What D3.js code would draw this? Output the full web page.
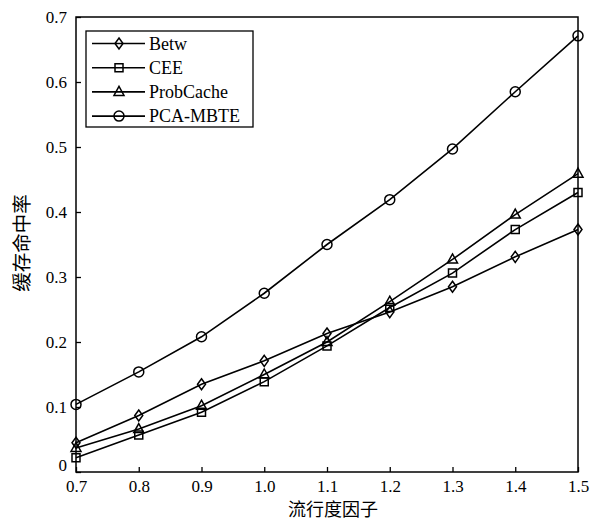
<!DOCTYPE html>
<html>
<head>
<meta charset="utf-8">
<script src="https://cdn.jsdelivr.net/npm/d3@7"></script>
<style>
  body { margin: 0; background: #fff; }
  svg { display: block; }
</style>
</head>
<body>
<svg id="chart" width="597" height="521"></svg>
<script>
// 流行度因子 (x) and hit ratios
var xValues = [0.7, 0.8, 0.9, 1.0, 1.1, 1.2, 1.3, 1.4, 1.5];
var betw = [0.045, 0.087, 0.135, 0.171, 0.213, 0.246, 0.285, 0.331, 0.373];
var cee = [0.022, 0.057, 0.092, 0.139, 0.194, 0.253, 0.306, 0.373, 0.430];
var probCache = [0.037, 0.066, 0.102, 0.150, 0.200, 0.262, 0.327, 0.396, 0.459];
var pcaMbte = [0.104, 0.154, 0.208, 0.275, 0.350, 0.419, 0.497, 0.585, 0.671];
var seriesNames = ["Betw", "CEE", "ProbCache", "PCA-MBTE"];
var markerTypes = ["diamond", "square", "triangle", "circle"];
var xTicks = [0.7, 0.8, 0.9, 1.0, 1.1, 1.2, 1.3, 1.4, 1.5];
var yTicks = [0, 0.1, 0.2, 0.3, 0.4, 0.5, 0.6, 0.7];

var svg = d3.select("svg#chart"),
    margin = {top: 17, right: 19, bottom: 49, left: 76},
    width = +svg.attr("width") - margin.left - margin.right,
    height = +svg.attr("height") - margin.top - margin.bottom,
    g = svg.append("g").attr("transform", "translate(" + margin.left + "," + margin.top + ")");

var serif = "'Liberation Serif', 'Times New Roman', serif";
var cjk = "'Noto Sans CJK SC', sans-serif";

var x = d3.scaleLinear().domain([0.7, 1.5]).range([0, width]);
var y = d3.scaleLinear().domain([0, 0.7]).range([height, 0]);

var series = [betw, cee, probCache, pcaMbte].map(function(vals, i) {
  return {name: seriesNames[i], marker: markerTypes[i],
          values: vals.map(function(v, j) { return {x: xValues[j], y: v}; })};
});

function markerPath(type) {
  if (type === "diamond") return "M0,-5.5L4,0L0,5.5L-4,0Z";
  if (type === "square") return "M-4,-4H4V4H-4Z";
  if (type === "triangle") return "M0,-5.5L5,3.5H-5Z";
  return "M5,0A5,5 0 1,1 -5,0A5,5 0 1,1 5,0Z";
}

// axes (ticks pointing inward)
var xAxis = g.append("g")
    .attr("transform", "translate(0," + height + ")")
    .call(d3.axisBottom(x).tickValues(xTicks).tickFormat(d3.format(".1f")).tickSizeInner(-5).tickSizeOuter(0).tickPadding(8));
var yAxis = g.append("g")
    .call(d3.axisLeft(y).tickValues(yTicks).tickFormat(function(d) { return d === 0 ? "0" : d3.format(".1f")(d); }).tickSizeInner(-5).tickSizeOuter(0).tickPadding(9));

[xAxis, yAxis].forEach(function(a) {
  a.select(".domain").remove();
  a.selectAll("line").attr("stroke", "#000").attr("stroke-width", 1.3);
  a.selectAll("text").attr("font-family", serif).attr("font-size", 17).attr("fill", "#000");
});
yAxis.selectAll(".tick").filter(function(d) { return d === 0; }).select("text").attr("dy", "-0.1em");

// box
g.append("rect")
    .attr("width", width)
    .attr("height", height)
    .attr("fill", "none")
    .attr("stroke", "#000")
    .attr("stroke-width", 1.5);

var line = d3.line()
    .x(function(d) { return x(d.x); })
    .y(function(d) { return y(d.y); });

var sg = g.append("g").selectAll("g")
    .data(series)
    .enter().append("g");

sg.append("path")
    .attr("d", function(d) { return line(d.values); })
    .attr("fill", "none")
    .attr("stroke", "#000")
    .attr("stroke-width", 1.6);

sg.each(function(s) {
  d3.select(this).selectAll(".mk")
    .data(s.values)
    .enter().append("path")
      .attr("class", "mk")
      .attr("transform", function(d) { return "translate(" + x(d.x) + "," + y(d.y) + ")"; })
      .attr("d", markerPath(s.marker))
      .attr("fill", "none")
      .attr("stroke", "#000")
      .attr("stroke-width", 1.5);
});

// legend
var legend = g.append("g").attr("transform", "translate(10,14)");
legend.append("rect")
    .attr("width", 167)
    .attr("height", 96)
    .attr("fill", "#fff")
    .attr("stroke", "#000")
    .attr("stroke-width", 1.3);

var item = legend.selectAll(".item")
    .data(series)
    .enter().append("g")
      .attr("transform", function(d, i) { return "translate(0," + (12.5 + i * 24.2) + ")"; });

item.append("line")
    .attr("x1", 6).attr("x2", 59)
    .attr("stroke", "#000").attr("stroke-width", 1.6);
item.append("path")
    .attr("transform", "translate(33,0)")
    .attr("d", function(d) { return markerPath(d.marker); })
    .attr("fill", "none").attr("stroke", "#000").attr("stroke-width", 1.5);
item.append("text")
    .attr("x", 63)
    .attr("dy", "0.34em")
    .attr("font-family", serif)
    .attr("font-size", 18)
    .text(function(d) { return d.name; });

// axis titles
svg.append("text")
    .attr("x", 333)
    .attr("y", 516)
    .attr("text-anchor", "middle")
    .attr("font-family", cjk)
    .attr("font-size", 18)
    .text("流行度因子");

svg.append("text")
    .attr("transform", "translate(29," + 243 + ") rotate(-90)")
    .attr("text-anchor", "middle")
    .attr("font-family", cjk)
    .attr("font-size", 19.5)
    .text("缓存命中率");
</script>
</body>
</html>
